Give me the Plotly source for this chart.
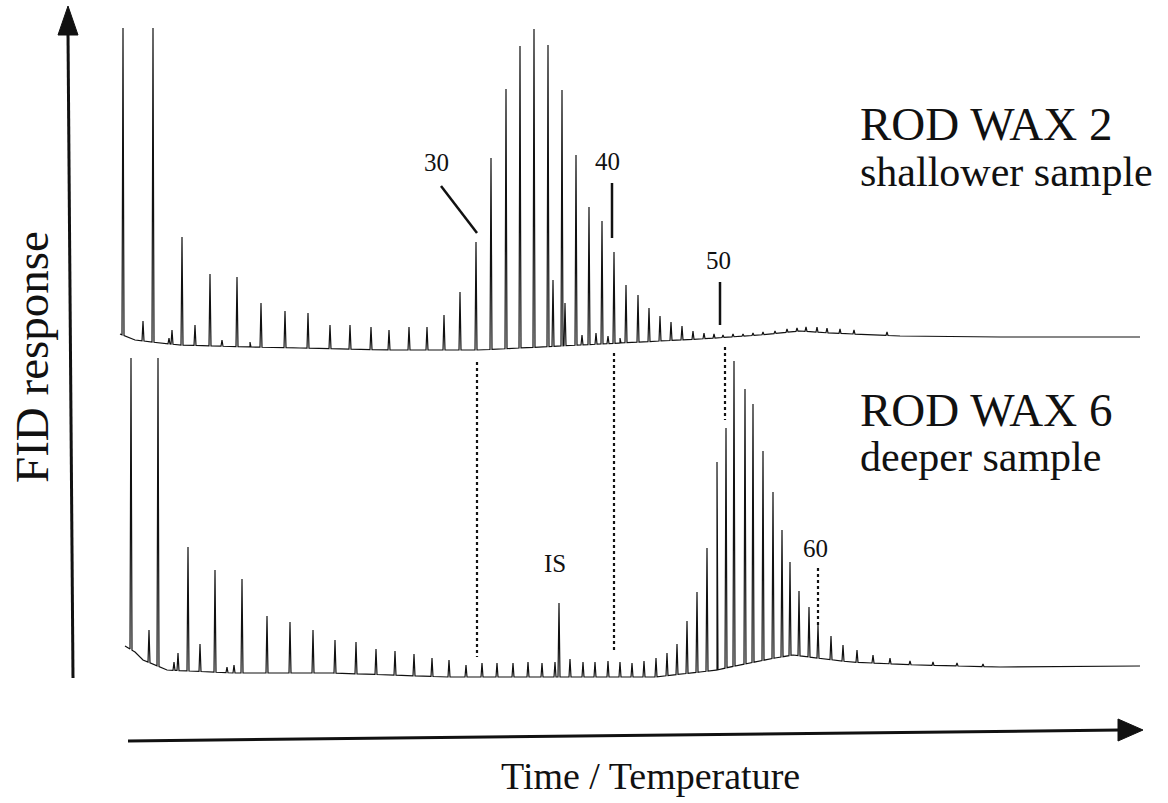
import numpy as np
import plotly.graph_objects as go

# ---------------- data (time units ~ chart x, response units) ----------------
# ROD WAX 2 (shallower sample) - baseline knots
top_base_t = [120, 135, 160, 180, 250, 300, 390, 480, 560, 620, 700, 760, 800, 830, 900, 1000, 1140]
top_base_r = [469, 463, 460, 458, 456, 455, 453, 453, 457, 460, 464, 468, 472, 470, 467, 466, 466]
# peak retention positions and apex responses
top_peak_t = [123, 143, 153, 169, 172, 182, 195, 210, 222, 237, 250, 261, 285, 308, 330, 350, 371, 389,
              409, 427, 444, 460, 476, 491, 506, 520, 534, 548, 553, 562, 565, 576, 582, 589, 596, 602,
              608, 614, 620, 626, 638, 649, 660, 671, 682, 693, 704, 714, 723,
              733, 743, 753, 763, 775, 787, 797, 806, 817, 827, 840, 854, 887]
top_peak_r = [775, 482, 775, 465, 473, 566, 478, 529, 463, 526, 461, 500, 492, 490, 478, 478, 476, 473,
              476, 476, 488, 511, 561, 645, 714, 757, 774, 758, 523, 713, 500, 648, 468, 596, 470, 582,
              467, 551, 465, 518, 508, 495, 487, 481, 477, 472, 470, 469, 468,
              469, 469, 470, 471, 472, 474, 475, 476, 476, 475, 474, 473, 471]

# ROD WAX 6 (deeper sample)
bot_base_t = [125, 135, 143, 167, 233, 333, 447, 600, 655, 700, 717, 730, 750, 775, 793, 817, 850, 917, 1000, 1140]
bot_base_r = [157, 151, 143, 133, 130, 130, 126, 126, 126, 131, 133, 136, 140, 145, 148, 145, 141, 138, 136, 137]
bot_peak_t = [131, 149, 158, 174, 178, 188, 200, 215, 227, 234, 242, 267, 290, 313, 335, 356, 376, 395,
              414, 432, 449, 466, 482, 497, 513, 528, 542, 555, 559, 570, 583, 595, 608, 620, 632, 644,
              656, 667, 677, 687, 697, 707, 717, 726, 734, 745, 753, 763, 773, 782, 790, 799, 809, 818,
              831, 843, 857, 873, 890, 910, 933, 957, 983]
bot_peak_r = [445, 173, 445, 141, 150, 256, 159, 233, 136, 138, 224, 187, 181, 173, 163, 161, 154, 152,
              149, 145, 143, 138, 140, 140, 140, 141, 140, 141, 200, 144, 141, 141, 142, 141, 140, 142,
              145, 150, 159, 182, 211, 255, 341, 375, 442, 414, 399, 352, 311, 273, 241, 212, 196, 178,
              167, 158, 153, 148, 145, 142, 141, 140, 139]

# carbon-number markers
marker_labels = ["30", "40", "50", "IS", "60"]
marker_label_t = [436, 607, 718, 555, 815]
marker_label_r = [641, 642, 543, 240, 255]
dotted_t = [477, 614, 725, 818]
dotted_from = [441, 450, 456, 235]
dotted_to = [146, 150, 383, 176]


def build(base_t, base_r, peak_t, peak_r, half=1.0):
    pts = list(zip(base_t, base_r))
    for t, r in zip(peak_t, peak_r):
        foot_l = float(np.interp(t - half, base_t, base_r))
        foot_r = float(np.interp(t + half, base_t, base_r))
        pts += [(t - half, foot_l), (t, r), (t + half, foot_r)]
    pts.sort(key=lambda p: p[0])
    return [p[0] for p in pts], [p[1] for p in pts]


tx, ty = build(top_base_t, top_base_r, top_peak_t, top_peak_r)
bx, by = build(bot_base_t, bot_base_r, bot_peak_t, bot_peak_r)

fig = go.Figure()
fig.add_trace(go.Scatter(x=tx, y=ty, mode="lines", line=dict(color="#111", width=1.2),
                         name="ROD WAX 2", hoverinfo="skip"))
fig.add_trace(go.Scatter(x=bx, y=by, mode="lines", line=dict(color="#111", width=1.2),
                         name="ROD WAX 6", hoverinfo="skip"))

shapes = []
# dotted correlation lines
for t, a, b in zip(dotted_t, dotted_from, dotted_to):
    shapes.append(dict(type="line", x0=t, x1=t, y0=a, y1=b, xref="x", yref="y",
                       line=dict(color="#111", width=2.2, dash="dot")))
# label leader lines (solid)
shapes.append(dict(type="line", x0=441, y0=617, x1=477, y1=570, line=dict(color="#111", width=2.5)))
shapes.append(dict(type="line", x0=612, y0=620, x1=612, y1=565, line=dict(color="#111", width=2.5)))
shapes.append(dict(type="line", x0=720, y0=521, x1=720, y1=478, line=dict(color="#111", width=2.5)))

# axes arrows
shapes.append(dict(type="line", x0=73, y0=125, x1=68, y1=770, line=dict(color="#111", width=3)))
shapes.append(dict(type="path", path="M 58 768 L 78 768 L 68 797 Z", fillcolor="#111",
                   line=dict(color="#111", width=1)))
shapes.append(dict(type="line", x0=128, y0=62, x1=1120, y1=73, line=dict(color="#111", width=3)))
shapes.append(dict(type="path", path="M 1118 84 L 1118 62 L 1143 73 Z", fillcolor="#111",
                   line=dict(color="#111", width=1)))

serif = "Liberation Serif, Times New Roman, serif"
font_head = dict(family=serif, size=47, color="#111")
font_sub = dict(family=serif, size=42, color="#111")
font_small = dict(family=serif, size=25, color="#111")

annotations = []
for lab, t, r in zip(marker_labels, marker_label_t, marker_label_r):
    annotations.append(dict(x=t, y=r, text=lab, showarrow=False, font=font_small,
                            xanchor="center", yanchor="middle"))

annotations.append(dict(x=858, y=679, text="ROD WAX 2", showarrow=False, font=font_head,
                        xanchor="left", yanchor="middle"))
annotations.append(dict(x=858, y=631, text="shallower sample", showarrow=False, font=font_sub,
                        xanchor="left", yanchor="middle"))
annotations.append(dict(x=858, y=393, text="ROD WAX 6", showarrow=False, font=font_head,
                        xanchor="left", yanchor="middle"))
annotations.append(dict(x=858, y=346, text="deeper sample", showarrow=False, font=font_sub,
                        xanchor="left", yanchor="middle"))
annotations.append(dict(x=32, y=446, text="FID response", showarrow=False, font=font_head,
                        textangle=-90, xanchor="center", yanchor="middle"))
annotations.append(dict(x=650, y=27, text="Time / Temperature", showarrow=False,
                        font=dict(family=serif, size=38, color="#111"),
                        xanchor="center", yanchor="middle"))

fig.update_layout(
    width=1168, height=803,
    margin=dict(l=0, r=0, t=0, b=0),
    paper_bgcolor="white", plot_bgcolor="white",
    showlegend=False,
    xaxis=dict(range=[0, 1168], visible=False, fixedrange=True),
    yaxis=dict(range=[0, 803], visible=False, fixedrange=True),
    shapes=shapes, annotations=annotations,
)

fig.write_html("out.html")
